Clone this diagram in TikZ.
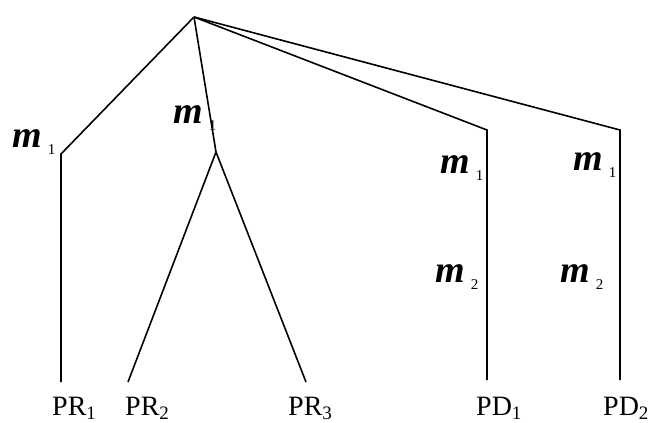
\documentclass[tikz,border=0pt]{standalone}
\usepackage{fontspec}
\setmainfont{Liberation Serif}
\usetikzlibrary{positioning}

\newcommand{\mlab}[1]{{\fontsize{38}{40}\selectfont\bfseries\itshape m}\hspace{6pt}\raisebox{-7pt}{\fontsize{15}{16}\selectfont #1}}
\newcommand{\lsub}[1]{\raisebox{-4pt}{\fontsize{19}{20}\selectfont #1}}

\begin{document}
\begin{tikzpicture}[
    x=1pt, y=-1pt,
    branch/.style={line width=1.6pt},
    leaf/.style={anchor=base west, inner sep=0pt, font=\fontsize{28}{30}\selectfont},
    mark label/.style={anchor=base west, inner sep=0pt}
]
    \useasboundingbox (0,0) rectangle (648,423);

    % tree points
    \coordinate (root) at (194,17);
    \coordinate (k1) at (61,154);
    \coordinate (k2) at (216,152);
    \coordinate (k3) at (487,130);
    \coordinate (k4) at (620,130);
    \coordinate (e1) at (61,382);
    \coordinate (e2) at (128,382);
    \coordinate (e3) at (306,382);
    \coordinate (e4) at (487,380);
    \coordinate (e5) at (620,380);

    % leaves
    \node[leaf] (pr1) at (52,415) {PR\lsub{1}};
    \node[leaf] (pr2) at (125,415) {PR\lsub{2}};
    \node[leaf] (pr3) at (288,415) {PR\lsub{3}};
    \node[leaf] (pd1) at (476,415) {PD\lsub{1}};
    \node[leaf] (pd2) at (603,415) {PD\lsub{2}};

    % labels on the branches
    \node[mark label] (m1a) at (12,147) {\mlab{1}};
    \node[mark label] (m1b) at (173,123) {\mlab{1}};
    \node[mark label] (m1c) at (440,173) {\mlab{1}};
    \node[mark label] (m2c) at (435,282) {\mlab{2}};
    \node[mark label] (m1d) at (573,170) {\mlab{1}};
    \node[mark label] (m2d) at (560,282) {\mlab{2}};

    \draw[branch] (root) -- (k1) -- (e1);
    \draw[branch] (root) -- (k2) -- (e2);
    \draw[branch] (k2) -- (e3);
    \draw[branch] (root) -- (k3) -- (e4);
    \draw[branch] (root) -- (k4) -- (e5);
\end{tikzpicture}
\end{document}
